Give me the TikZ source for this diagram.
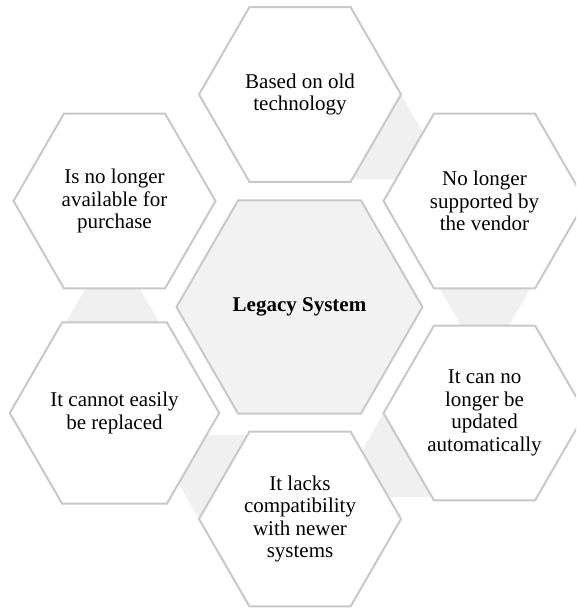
\documentclass[tikz,border=0pt]{standalone}
\usepackage{fontspec}
\setmainfont{Liberation Serif}
\usetikzlibrary{shapes.geometric}
\definecolor{hexline}{HTML}{C8C8C8}
\definecolor{hexfill}{HTML}{F2F2F2}
\definecolor{linkfill}{HTML}{F0F0F0}
\begin{document}
\begin{tikzpicture}[x=1pt,y=-1pt,
  hexbase/.style={regular polygon, regular polygon sides=6, draw=hexline, line width=2pt,
    inner sep=0pt, outer sep=0pt, align=center, font=\fontsize{21}{22.5}\selectfont},
  outerhex/.style={hexbase, fill=white, minimum size=202pt},
  centerhex/.style={hexbase, fill=hexfill, minimum size=246pt, font=\fontsize{21}{22.5}\selectfont\bfseries},
  link/.style={fill=linkfill, draw=none}]
\useasboundingbox (0,0) rectangle (576,609);
\clip (0,0) rectangle (576,609);
% light connector shapes between neighbouring hexagons (partly hidden)
\fill[link] (401,94.5) -- (447.5,175) -- (447.5,179) -- (340,179) -- cycle;
\fill[link] (429,270) -- (541,270) -- (500.6,340) -- (469.4,340) -- cycle;
\fill[link] (383.5,413) -- (349,473) -- (349,497) -- (445,497) -- (445,420) -- cycle;
\fill[link] (199,519) -- (165,460) -- (165,435) -- (260,435) -- (260,519) -- cycle;
\fill[link] (96,270) -- (129,270) -- (163.7,330) -- (61.4,330) -- cycle;
% hexagons
\node[outerhex] (t)  at (300,94.5)  {Based on old\\technology};
\node[outerhex] (rt) at (484.5,201) {No longer\\supported by\\the vendor};
\node[outerhex] (rb) at (484.5,413) {It can no\\longer be\\updated\\automatically};
\node[outerhex] (b)  at (300,519)   {It lacks\\compatibility\\with newer\\systems};
\node[outerhex] (lb) at (114.5,413) {It cannot easily\\be replaced};
\node[outerhex] (lt) at (114.5,201) {Is no longer\\available for\\purchase};
\node[centerhex] (c) at (299.5,307) {Legacy System};
\end{tikzpicture}
\end{document}
